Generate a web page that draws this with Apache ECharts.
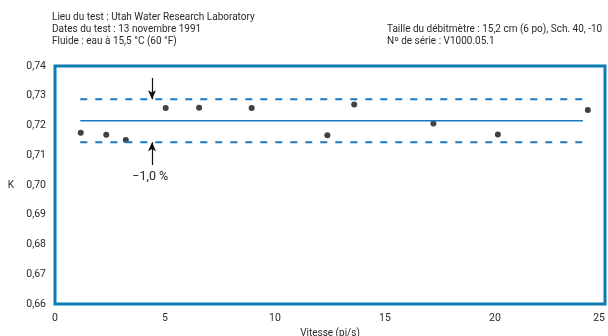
<!DOCTYPE html>
<html>
<head>
<meta charset="utf-8">
<script src="https://cdn.jsdelivr.net/npm/echarts@6/dist/echarts.min.js"></script>
<style>html,body{margin:0;padding:0;background:#fff}#c{width:608px;height:336px}</style>
</head>
<body>
<div id="c"></div>
<script>
const speed = [1.17, 2.33, 3.22, 5.03, 6.55, 8.94, 12.38, 13.6, 17.2, 20.13, 24.22];
const kValues = [0.7176, 0.7169, 0.7151, 0.7259, 0.7260, 0.7259, 0.7167, 0.7271, 0.7207, 0.7170, 0.7252];
const meanK = 0.7216;
const bandPct = 0.01;
const lineSpan = [1.15, 24.0];
const arrowX = 4.41;
const headerLeft = ['Lieu du test : Utah Water Research Laboratory', 'Dates du test : 13 novembre 1991', 'Fluide : eau à 15,5 °C (60 °F)'];
const headerRight = ['Taille du débitmètre : 15,2 cm (6 po), Sch. 40, -10', 'Nº de série : V1000.05.1'];
const bandLabel = '\u22121,0 %';

const FONT = 'Roboto,"Liberation Sans",Arial,sans-serif';
const TXT = '#2a2a2a';
const BLUE = '#1a78c2';
const upper = meanK * (1 + bandPct), lower = meanK * (1 - bandPct);

const chart = echarts.init(document.getElementById('c'));
chart.setOption({
  animation: false,
  textStyle: {fontFamily: FONT},
  grid: {left: 55, right: 3, top: 66, bottom: 32, show: true, borderColor: '#0a7db4', borderWidth: 3,
         containLabel: false, outerBoundsMode: 'none'},
  graphic: [
    {type: 'text', left: 52, top: 11, style: {text: headerLeft.join('\n'), font: '10px ' + FONT, fill: TXT, lineHeight: 12}},
    {type: 'text', left: 387, top: 23, style: {text: headerRight.join('\n'), font: '10px ' + FONT, fill: TXT, lineHeight: 12}}
  ],
  xAxis: {
    type: 'value', min: 0, max: 25, interval: 5,
    name: 'Vitesse (pi/s)', nameLocation: 'middle', nameGap: 22,
    nameTextStyle: {color: TXT, fontSize: 10, fontFamily: FONT},
    axisLine: {show: false}, axisTick: {show: false}, splitLine: {show: false},
    axisLabel: {color: TXT, fontSize: 10.5, fontFamily: FONT, margin: 9,
      showMaxLabel: true, alignMaxLabel: 'right'}
  },
  yAxis: {
    type: 'value', min: 0.66, max: 0.74, interval: 0.01,
    name: 'K', nameLocation: 'middle', nameRotate: 0, nameGap: 41,
    nameTextStyle: {color: TXT, fontSize: 10, fontFamily: FONT},
    axisLine: {show: false}, axisTick: {show: false}, splitLine: {show: false},
    axisLabel: {color: TXT, fontSize: 10.5, fontFamily: FONT, margin: 9,
      formatter: v => v.toFixed(2).replace('.', ',')}
  },
  series: [
    {type: 'line', data: [[lineSpan[0], meanK], [lineSpan[1], meanK]], symbol: 'none',
     lineStyle: {color: BLUE, width: 1.6}, silent: true},
    {type: 'line', data: [[lineSpan[0], upper], [lineSpan[1], upper]], symbol: 'none',
     lineStyle: {color: BLUE, width: 2, type: [7, 8]}, silent: true},
    {type: 'line', data: [[lineSpan[0], lower], [lineSpan[1], lower]], symbol: 'none',
     lineStyle: {color: BLUE, width: 2, type: [7, 8]}, silent: true},
    {type: 'scatter', data: speed.map((s, i) => [s, kValues[i]]), symbolSize: 6,
     itemStyle: {color: '#111'},
     markLine: {
       silent: true, symbol: ['none', 'arrow'], symbolSize: [6, 9],
       lineStyle: {color: '#111', width: 1.2, type: 'solid'}, label: {show: false},
       data: [
         [{coord: [arrowX, 0.7360]}, {coord: [arrowX, upper]}],
         [{coord: [arrowX, 0.7067]}, {coord: [arrowX, lower]}]
       ]
     },
     markPoint: {
       silent: true, symbol: 'rect', symbolSize: 1, itemStyle: {color: 'transparent'},
       label: {show: true, position: 'inside', formatter: bandLabel, color: TXT, fontSize: 12.5, fontFamily: FONT},
       data: [{coord: [arrowX - 0.08, 0.7028]}]
     }
    }
  ]
});
</script>
</body>
</html>
